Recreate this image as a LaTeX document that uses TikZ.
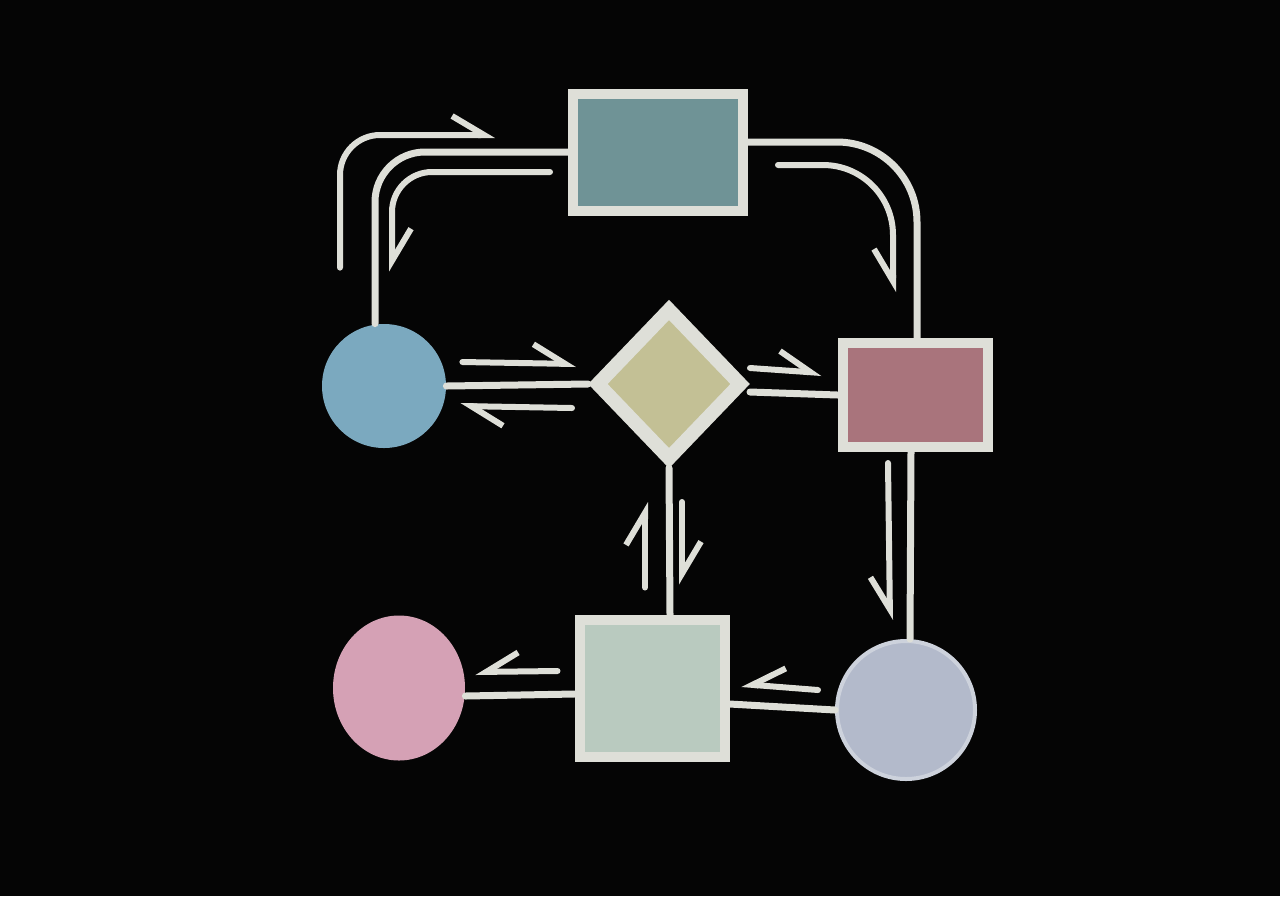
\documentclass[tikz,border=0pt]{standalone}
\usepackage{tikz}
\usetikzlibrary{shapes.geometric}
\usetikzlibrary{arrows.meta}
\definecolor{board}{HTML}{050505}
\definecolor{chalkwhite}{HTML}{DEDFD8}
\definecolor{topfill}{HTML}{6F9396}
\definecolor{lcfill}{HTML}{7BA9BF}
\definecolor{diafill}{HTML}{C3C095}
\definecolor{rrfill}{HTML}{A9747C}
\definecolor{brcfill}{HTML}{B3BACB}
\definecolor{brcedge}{HTML}{CDD2DC}
\definecolor{bsqfill}{HTML}{B9CABF}
\definecolor{blcfill}{HTML}{D5A1B5}

\begin{document}
\begin{tikzpicture}[x=0.5pt,y=-0.5pt,chalk/.style={draw=chalkwhite,line width=3.5pt,line cap=round},harp/.style={chalk,line width=3pt,-{Straight Barb[left,length=16pt,width=19pt]}},harpr/.style={chalk,line width=3pt,-{Straight Barb[right,length=16pt,width=19pt]}},box/.style={rectangle,draw=chalkwhite,line width=5pt,inner sep=0pt},blob/.style={circle,inner sep=0pt}]
    \fill[board] (0,0) rectangle (1280,896);
    \node[box,fill=topfill,minimum width=85pt,minimum height=58.5pt] (top) at (658,152) {};
    \node[blob,fill=lcfill,minimum size=62pt] (lc) at (384,386) {};
    \node[diamond,draw=chalkwhite,line width=7pt,fill=diafill,minimum width=74pt,minimum height=77pt,inner sep=0pt] (dia) at (669,384) {};
    \node[box,fill=rrfill,minimum width=72.5pt,minimum height=52pt] (rr) at (915,395) {};
    \node[blob,fill=brcfill,draw=brcedge,line width=2pt,minimum size=69pt] (brc) at (906,710) {};
    \node[box,fill=bsqfill,minimum width=72.5pt,minimum height=68.5pt] (bsq) at (652,688) {};
    \node[ellipse,fill=blcfill,minimum width=66pt,minimum height=72.5pt,inner sep=0pt] (blc) at (399,688) {};
    \draw[chalk,rounded corners=25pt] ([xshift=-4.5pt]lc.north) |- (top.west);
    \draw[harp,rounded corners=20pt] ([xshift=-22pt,yshift=28pt]lc.north) |- ([xshift=-36.5pt,yshift=8.5pt]top.west);
    \draw[harp,rounded corners=20pt] ([xshift=-9pt,yshift=-10pt]top.west) -| ([xshift=4pt,yshift=26pt]lc.north);
    \draw[chalk,rounded corners=40pt] ([yshift=5pt]top.east) -| ([xshift=1pt]rr.north);
    \draw[harpr,rounded corners=35pt] ([xshift=15pt,yshift=-6.5pt]top.east) -| ([xshift=-11pt,yshift=23pt]rr.north);
    \draw[chalk] (lc.east) -- (dia.west);
    \draw[harp] ([xshift=8pt,yshift=12pt]lc.east) -- ([xshift=-6pt,yshift=10pt]dia.west);
    \draw[harp] ([xshift=-8pt,yshift=-12pt]dia.west) -- ([xshift=7pt,yshift=-10pt]lc.east);
    \draw[chalk] ([yshift=-4pt]dia.east) -- (rr.west);
    \draw[harp] ([yshift=8pt]dia.east) -- ([xshift=-8pt,yshift=11pt]rr.west);
    \draw[chalk] ([xshift=-2pt]rr.south) -- ([xshift=2pt]brc.north);
    \draw[harpr] ([xshift=-13.5pt,yshift=-5.5pt]rr.south) -- ([xshift=-8pt,yshift=9.5pt]brc.north);
    \draw[chalk] (brc.west) -- ([yshift=-8pt]bsq.east);
    \draw[harpr] ([xshift=-8.5pt,yshift=10pt]brc.west) -- ([xshift=6pt,yshift=2pt]bsq.east);
    \draw[chalk] ([yshift=-3pt]bsq.west) -- ([yshift=-4pt]blc.east);
    \draw[harpr] ([xshift=-8.5pt,yshift=8.5pt]bsq.west) -- ([xshift=5pt,yshift=8pt]blc.east);
    \draw[chalk] (dia.south) -- ([xshift=9pt]bsq.north);
    \draw[harp] ([xshift=-3.5pt,yshift=13.5pt]bsq.north) -- ([xshift=-12pt,yshift=-17pt]dia.south);
    \draw[harp] ([xshift=6.5pt,yshift=-17pt]dia.south) -- ([xshift=15pt,yshift=15pt]bsq.north);
\end{tikzpicture}
\end{document}
